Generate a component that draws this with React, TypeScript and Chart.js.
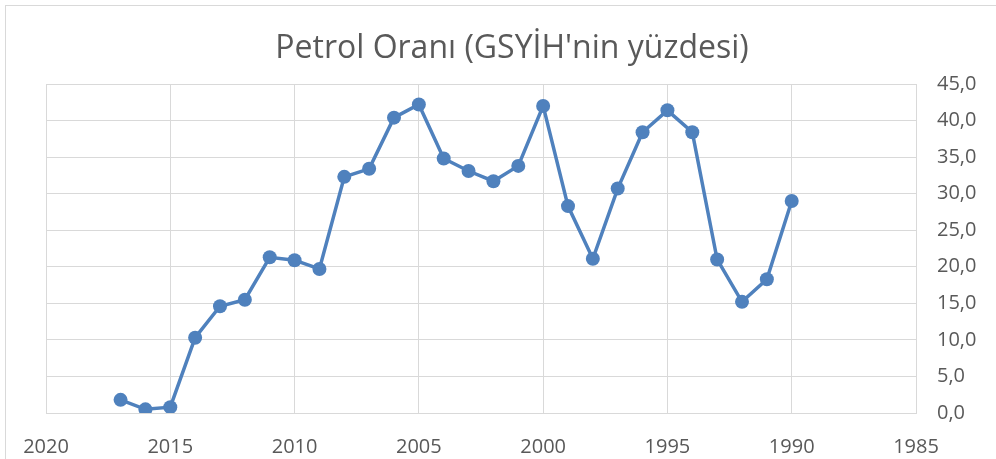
import React, { useEffect, useRef } from "react";
import { Chart, registerables } from "chart.js";

Chart.register(...registerables);

const years: number[] = [
  2017, 2016, 2015, 2014, 2013, 2012, 2011, 2010, 2009, 2008, 2007, 2006, 2005, 2004,
  2003, 2002, 2001, 2000, 1999, 1998, 1997, 1996, 1995, 1994, 1993, 1992, 1991, 1990,
];
const petrolRatio: number[] = [
  1.8, 0.5, 0.8, 10.3, 14.6, 15.5, 21.3, 20.9, 19.7, 32.3, 33.4, 40.4, 42.2, 34.8,
  33.1, 31.7, 33.8, 42.0, 28.3, 21.1, 30.7, 38.4, 41.4, 38.4, 21.0, 15.2, 18.3, 29.0,
];
const chartTitle = "Petrol Oranı (GSYİH'nin yüzdesi)";
const xMin = 1985;
const xMax = 2020;
const xStep = 5;
const yMin = 0;
const yMax = 45;
const yStep = 5;

const FONT = "'Open Sans', 'Liberation Sans', sans-serif";
const TEXT = "#595959";
const GRID = "#d9d9d9";
const BLUE = "#4f81bd";

export default function App() {
  const ref = useRef<HTMLCanvasElement | null>(null);

  useEffect(() => {
    if (!ref.current) return;
    const chart = new Chart(ref.current, {
      type: "line",
      data: {
        datasets: [
          {
            label: chartTitle,
            data: years.map((y, i) => ({ x: y, y: petrolRatio[i] })),
            borderColor: BLUE,
            backgroundColor: BLUE,
            borderWidth: 3.5,
            pointRadius: 7,
            pointBackgroundColor: BLUE,
            pointBorderColor: BLUE,
            pointBorderWidth: 0,
            tension: 0,
            fill: false,
          },
        ],
      },
      options: {
        animation: false,
        responsive: false,
        maintainAspectRatio: false,
        layout: { padding: { left: 28, right: 0, top: 0, bottom: 0 } },
        plugins: {
          legend: { display: false },
          tooltip: { enabled: false },
          title: {
            display: true,
            text: chartTitle,
            color: TEXT,
            font: { family: FONT, size: 32, weight: "normal", lineHeight: 1.2 },
            padding: { top: 30, bottom: 15.6 },
          },
        },
        scales: {
          x: {
            type: "linear",
            reverse: true,
            min: xMin,
            max: xMax,
            ticks: {
              stepSize: xStep,
              color: TEXT,
              font: { family: FONT, size: 20 },
              padding: 22,
              maxRotation: 0,
              callback: (v: any) => String(v),
            },
            grid: { color: GRID, lineWidth: 1, drawTicks: false },
            border: { display: true, color: GRID, width: 1 },
            afterFit: (s: any) => {
              s.height = 46;
            },
          },
          y: {
            type: "linear",
            position: "right",
            min: yMin,
            max: yMax,
            ticks: {
              stepSize: yStep,
              color: TEXT,
              font: { family: FONT, size: 20 },
              padding: 21,
              callback: (v: any) => Number(v).toFixed(1).replace(".", ","),
            },
            grid: { color: GRID, lineWidth: 1, drawTicks: false },
            border: { display: true, color: GRID, width: 1 },
            afterFit: (s: any) => {
              s.width = 80;
            },
          },
          spacer: {
            type: "linear",
            position: "left",
            display: true,
            min: 0,
            max: 1,
            ticks: { display: false },
            grid: { display: false, drawTicks: false },
            border: { display: false },
            afterFit: (s: any) => {
              s.width = 18;
            },
          },
        },
      },
    });
    return () => chart.destroy();
  }, []);

  return (
    <div
      style={{
        position: "fixed",
        left: 0,
        top: 0,
        width: 996,
        height: 459,
        background: "#ffffff",
        overflow: "hidden",
      }}
    >
      <div
        style={{
          position: "absolute",
          left: 5,
          top: 5,
          width: 1100,
          height: 1100,
          border: `1px solid ${GRID}`,
          boxSizing: "border-box",
        }}
      />
      <canvas ref={ref} width={996} height={459} style={{ position: "absolute", left: 0, top: 0 }} />
    </div>
  );
}
